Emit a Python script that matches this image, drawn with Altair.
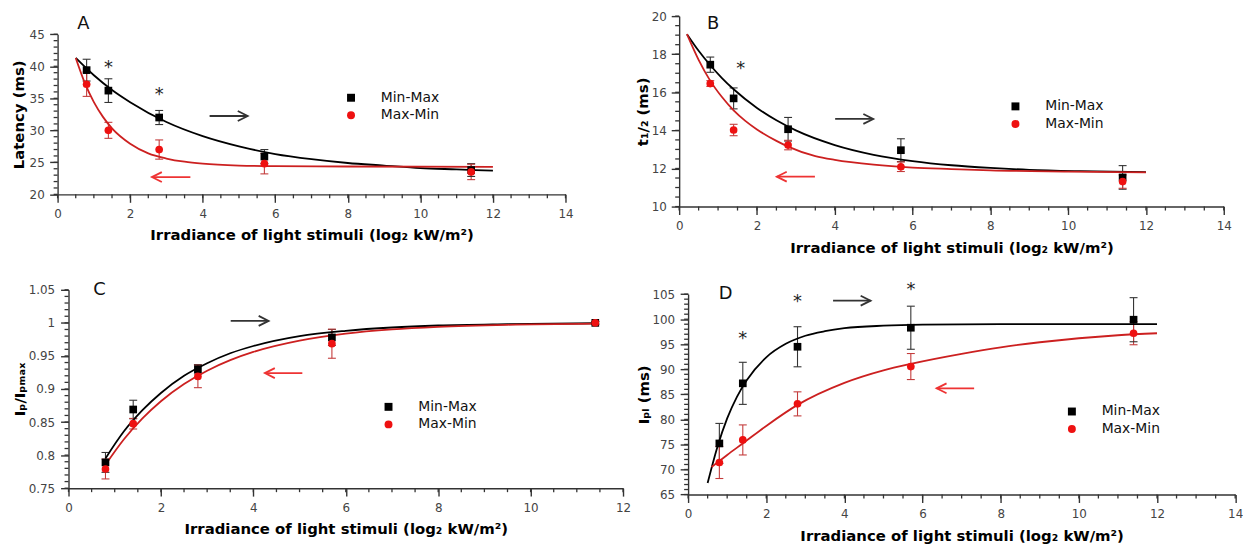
import altair as alt
import pandas as pd

SERIES = ["Min-Max", "Max-Min"]
X_STIM = [0.8, 1.4, 2.8, 5.7, 11.4]
X_TITLE = "Irradiance of light stimuli (log₂ kW/m²)"

PT_COLORS = ["#000000", "#ee1111"]
ERR_COLORS = ["#333333", "#c43c3c"]
FIT_COLORS = ["#000000", "#cc2020"]
ARROW_COLORS = ["#333333", "#ee3333"]
AXIS_COLOR = "#333333"
MARGIN = 5  # room kept inside each panel for the minor ticks

# ---------------- Panel A : latency ----------------
A_MINMAX = [39.4, 36.2, 32.0, 25.9, 23.8]
A_MINMAX_ERR = [1.7, 1.85, 1.1, 1.1, 1.0]
A_MAXMIN = [37.2, 30.0, 27.0, 24.8, 23.5]
A_MAXMIN_ERR = [1.9, 1.25, 1.5, 1.6, 1.2]
A_FIT1_X = [0.5, 1, 1.5, 2, 3, 4, 5, 6, 7, 8, 9, 10, 11, 12]
A_FIT1_Y = [41.3, 38.6, 36.3, 34.4, 31.3, 29.1, 27.5, 26.3, 25.5, 24.9, 24.5, 24.1, 23.9, 23.7]
A_FIT2_X = [0.5, 0.75, 1, 1.25, 1.5, 2, 2.5, 3, 3.5, 4, 5, 6, 8, 12]
A_FIT2_Y = [41.3, 37.4, 34.4, 32.1, 30.3, 27.9, 26.4, 25.6, 25.1, 24.8, 24.5, 24.4, 24.35, 24.3]
A_ARROW_X0 = [4.19, 3.66]
A_ARROW_X1 = [5.24, 2.60]
A_ARROW_Y = [32.24, 22.7]
A_STAR_X = [1.4, 2.8]
A_STAR_Y = [40.5, 36.25]

# ---------------- Panel B : t1/2 ----------------
B_MINMAX = [17.45, 15.68, 14.06, 12.96, 11.53]
B_MINMAX_ERR = [0.4, 0.55, 0.62, 0.6, 0.62]
B_MAXMIN = [16.46, 14.02, 13.23, 12.09, 11.31]
B_MAXMIN_ERR = [0.15, 0.3, 0.25, 0.25, 0.35]
B_FIT1_X = [0.2, 0.5, 0.8, 1.1, 1.4, 2, 2.5, 3, 4, 5, 6, 7, 8, 9, 10.3, 12]
B_FIT1_Y = [19.05, 18.18, 17.42, 16.75, 16.16, 15.18, 14.53, 14.0, 13.23, 12.72, 12.39, 12.17, 12.03, 11.93, 11.86, 11.81]
B_FIT2_X = [0.2, 0.5, 0.8, 1.1, 1.4, 1.7, 2, 2.5, 2.8, 3.5, 4, 5, 6, 7, 8, 10, 12]
B_FIT2_Y = [19.05, 17.7, 16.6, 15.75, 15.05, 14.5, 14.05, 13.45, 13.15, 12.65, 12.45, 12.2, 12.05, 11.97, 11.9, 11.84, 11.8]
B_ARROW_X0 = [4.01, 3.49]
B_ARROW_X1 = [4.99, 2.51]
B_ARROW_Y = [14.6, 11.57]
B_STAR_X = [1.58]
B_STAR_Y = [17.47]

# ---------------- Panel C : Ip/Ipmax ----------------
C_MINMAX = [0.789, 0.869, 0.930, 0.978, 1.0]
C_MINMAX_ERR = [0.015, 0.014, 0.007, 0.012, 0.002]
C_MAXMIN = [0.779, 0.8475, 0.919, 0.9685, 1.0]
C_MAXMIN_ERR = [0.015, 0.008, 0.017, 0.022, 0.002]
C_FIT1_X = [0.8, 1.2, 1.6, 2, 2.5, 3, 3.5, 4, 5, 6, 7, 8, 9.5, 11.4]
C_FIT1_Y = [0.795, 0.836, 0.868, 0.894, 0.920, 0.939, 0.954, 0.965, 0.980, 0.988, 0.993, 0.996, 0.998, 0.9994]
C_FIT2_X = [0.8, 1.2, 1.6, 2, 2.5, 3, 3.5, 4, 5, 6, 7, 8, 9.5, 11.4]
C_FIT2_Y = [0.7855, 0.824, 0.8555, 0.8815, 0.9075, 0.9277, 0.9436, 0.956, 0.9731, 0.9836, 0.990, 0.9939, 0.9971, 0.9989]
C_ARROW_X0 = [3.51, 5.06]
C_ARROW_X1 = [4.33, 4.25]
C_ARROW_Y = [1.003, 0.924]
C_STAR_X = []
C_STAR_Y = []

# ---------------- Panel D : Ipl ----------------
D_MINMAX = [75.2, 87.2, 94.5, 98.3, 99.9]
D_MINMAX_ERR = [4.0, 4.2, 4.0, 4.3, 4.4]
D_MAXMIN = [71.4, 75.9, 83.1, 90.55, 97.2]
D_MAXMIN_ERR = [3.2, 3.0, 2.4, 2.6, 2.3]
D_FIT1_X = [0.5, 0.75, 1, 1.25, 1.5, 2, 2.5, 3, 3.5, 4, 5, 6, 8, 12]
D_FIT1_Y = [67.3, 74.5, 80.2, 84.5, 87.8, 92.4, 95.1, 96.7, 97.6, 98.2, 98.7, 98.9, 99.0, 99.0]
D_FIT2_X = [0.6, 0.8, 1, 1.4, 2, 2.8, 4, 5, 5.7, 7, 8, 9, 10, 11, 12]
D_FIT2_Y = [70.5, 71.7, 72.9, 75.2, 78.7, 82.9, 87.3, 89.8, 91.1, 93.1, 94.4, 95.4, 96.2, 96.8, 97.2]
D_ARROW_X0 = [3.71, 7.32]
D_ARROW_X1 = [4.67, 6.36]
D_ARROW_Y = [103.7, 86.2]
D_STAR_X = [1.4, 2.8, 5.7]
D_STAR_Y = [96.95, 104.4, 106.85]

RIGHT_HEAD = "M -1 -0.5 L 0 0 L -1 0.5"
LEFT_HEAD = "M 1 -0.5 L 0 0 L 1 0.5"


def ticks(lo, hi, step):
    n = int(round((hi - lo) / step))
    return [round(lo + i * step, 6) for i in range(n + 1)]


def panel(letter, letter_x, letter_y, mm, mm_err, xm, xm_err,
          fit1x, fit1y, fit2x, fit2y, ax0, ax1, ay, sx, sy,
          xdom, ydom, xstep, ystep, xminor, yminor, ytitle, ytitle_pad, ylabel_pad,
          w, h, xoff, yoff, lx, ly):
    xoff = xoff + MARGIN
    xs = alt.Scale(domain=xdom, nice=False, zero=False, range=[xoff, xoff + w])
    ys = alt.Scale(domain=ydom, nice=False, zero=False, range=[yoff + h, yoff])
    xaxis = alt.Axis(title=X_TITLE, values=ticks(xdom[0], xdom[1], xstep), tickSize=8,
                     offset=-MARGIN,
                     labelOverlap=False, labelFlush=False, labelPadding=6, titlePadding=9,
                     labelExpr="'' + datum.value", grid=False)
    yaxis = alt.Axis(title=ytitle, values=ticks(ydom[0], ydom[1], ystep), tickSize=8,
                     offset=-xoff,
                     labelOverlap=False, labelFlush=False, labelPadding=ylabel_pad - 1,
                     titlePadding=ytitle_pad, labelExpr="'' + datum.value", grid=False)

    rows = []
    for i, s in enumerate(SERIES):
        vals = mm if i == 0 else xm
        errs = mm_err if i == 0 else xm_err
        for xv, yv, ev in zip(X_STIM, vals, errs):
            rows.append({"x": xv, "y": yv, "lo": yv - ev, "hi": yv + ev,
                         "series": s, "ecol": ERR_COLORS[i]})
    pts = pd.DataFrame(rows)
    caps = pd.concat([
        pts[["x", "lo", "ecol"]].rename(columns={"lo": "y"}),
        pts[["x", "hi", "ecol"]].rename(columns={"hi": "y"}),
    ])

    X = alt.X("x:Q", scale=xs, axis=xaxis)
    Y = alt.Y("y:Q", scale=ys, axis=yaxis)

    # minor ticks: short rules hanging outside the axis lines (inside the panel margin)
    xm_vals = ticks(xdom[0], xdom[1], xminor)
    ym_vals = ticks(ydom[0], ydom[1], yminor)
    xmin_df = pd.DataFrame({"x": xm_vals, "y": [ydom[0]] * len(xm_vals),
                            "y2": [ydom[0]] * len(xm_vals), "c": AXIS_COLOR})
    ymin_df = pd.DataFrame({"x": [xdom[0]] * len(ym_vals), "x2": [xdom[0]] * len(ym_vals),
                            "y": ym_vals, "c": AXIS_COLOR})
    xminor_ticks = alt.Chart(xmin_df).mark_rule(
        strokeWidth=1.3, y2Offset=4, opacity=1, clip=False).encode(
        x=X, y=Y, y2="y2:Q", color=alt.Color("c:N", scale=None))
    yminor_ticks = alt.Chart(ymin_df).mark_rule(
        strokeWidth=1.3, x2Offset=-4, opacity=1, clip=False).encode(
        x=X, x2="x2:Q", y=Y, color=alt.Color("c:N", scale=None))

    err = alt.Chart(pts).mark_rule(strokeWidth=1.1).encode(
        x=X, y=alt.Y("lo:Q", scale=ys, axis=yaxis), y2="hi:Q",
        color=alt.Color("ecol:N", scale=None))
    cap = alt.Chart(caps).mark_tick(orient="horizontal", size=8, thickness=1.1, opacity=1).encode(
        x=X, y=Y, color=alt.Color("ecol:N", scale=None))

    fit_layers = []
    for fx, fy, col in ((fit1x, fit1y, FIT_COLORS[0]), (fit2x, fit2y, FIT_COLORS[1])):
        fdf = pd.DataFrame({"x": fx, "y": fy})
        fit_layers.append(alt.Chart(fdf).mark_line(
            color=col, strokeWidth=1.8, interpolate="monotone").encode(x=X, y=Y))

    leg = alt.Legend(title=None, orient="none", legendX=lx + xoff, legendY=ly + yoff,
                     labelFontSize=14, labelFont="DejaVu Sans", labelColor="#111111",
                     symbolSize=64, labelOffset=23, rowPadding=3.7, padding=0,
                     symbolStrokeWidth=0)
    points = alt.Chart(pts).mark_point(filled=True, size=60, opacity=1).encode(
        x=X, y=Y,
        color=alt.Color("series:N", scale=alt.Scale(domain=SERIES, range=PT_COLORS), legend=leg),
        shape=alt.Shape("series:N", scale=alt.Scale(domain=SERIES, range=["square", "circle"]), legend=leg),
    )

    adf = pd.DataFrame({
        "x0": ax0, "x": ax1, "y": ay,
        "col": ARROW_COLORS,
        "head": [RIGHT_HEAD if b > a else LEFT_HEAD for a, b in zip(ax0, ax1)],
    })
    shaft = alt.Chart(adf).mark_rule(strokeWidth=1.8).encode(
        x=alt.X("x0:Q", scale=xs, axis=xaxis), x2="x:Q", y=Y,
        color=alt.Color("col:N", scale=None))
    head = alt.Chart(adf).mark_point(filled=False, size=400, strokeWidth=1.8, opacity=1).encode(
        x=X, y=Y, shape=alt.Shape("head:N", scale=None), color=alt.Color("col:N", scale=None))

    layers = [xminor_ticks, yminor_ticks, err, cap] + fit_layers + [points, shaft, head]

    if sx:
        sdf = pd.DataFrame({"x": sx, "y": sy})
        layers.append(alt.Chart(sdf).mark_text(text="*", fontSize=18, dy=5, color="#222222",
                                               font="DejaVu Sans").encode(x=X, y=Y))
    ldf = pd.DataFrame({"x": [letter_x], "y": [letter_y], "t": [letter]})
    layers.append(alt.Chart(ldf).mark_text(fontSize=18, color="#111111", font="DejaVu Sans").encode(
        x=X, y=Y, text="t:N"))

    return alt.layer(*layers).properties(width=xoff + w, height=yoff + h + MARGIN)


pA = panel("A", 0.71, 46.6, A_MINMAX, A_MINMAX_ERR, A_MAXMIN, A_MAXMIN_ERR,
           A_FIT1_X, A_FIT1_Y, A_FIT2_X, A_FIT2_Y, A_ARROW_X0, A_ARROW_X1, A_ARROW_Y,
           A_STAR_X, A_STAR_Y, [0, 14], [20, 45], 2, 5, 0.5, 1,
           "Latency (ms)", 2.5, 6.5, 512, 161.4, 0, 18.3, 288.8, 57)
pB = panel("B", 0.87, 19.58, B_MINMAX, B_MINMAX_ERR, B_MAXMIN, B_MAXMIN_ERR,
           B_FIT1_X, B_FIT1_Y, B_FIT2_X, B_FIT2_Y, B_ARROW_X0, B_ARROW_X1, B_ARROW_Y,
           B_STAR_X, B_STAR_Y, [0, 14], [10, 20], 2, 2, 0.5, 0.5,
           "t₁/₂ (ms)", 0.5, 6, 549, 192, 0, 0, 332, 84)
pC = panel("C", 0.67, 1.05, C_MINMAX, C_MINMAX_ERR, C_MAXMIN, C_MAXMIN_ERR,
           C_FIT1_X, C_FIT1_Y, C_FIT2_X, C_FIT2_Y, C_ARROW_X0, C_ARROW_X1, C_ARROW_Y,
           C_STAR_X, C_STAR_Y, [0, 12], [0.75, 1.05], 2, 0.05, 0.5, 0.01,
           "Iₚ/Iₚₘₐₓ", 1, 7, 559, 200, 11, 0, 315.6, 111)
pD = panel("D", 0.96, 105, D_MINMAX, D_MINMAX_ERR, D_MAXMIN, D_MAXMIN_ERR,
           D_FIT1_X, D_FIT1_Y, D_FIT2_X, D_FIT2_Y, D_ARROW_X0, D_ARROW_X1, D_ARROW_Y,
           D_STAR_X, D_STAR_Y, [0, 14], [65, 105], 2, 5, 0.5, 1,
           "Iₚₗ (ms)", 0.5, 6.5, 551.5, 202, 9, 4.4, 379.9, 111.3)

chart = alt.concat(
    pA, pB, pC, pD, columns=2, bounds="flush", align="all",
    spacing={"row": 63.9, "column": 51.6},
    padding={"left": 3, "top": 0, "right": 0, "bottom": 0},
    background="white",
).resolve_scale(color="independent", shape="independent").configure_view(
    stroke=None
).configure_axis(
    domainColor=AXIS_COLOR, tickColor=AXIS_COLOR, labelColor="#444444",
    labelFont="DejaVu Sans", labelFontSize=12,
    titleFont="DejaVu Sans", titleFontSize=15, titleFontWeight="bold", titleColor="#000000",
    domainWidth=1.4, tickWidth=1.4,
)

chart.save("out.html", embed_options={"renderer": "svg", "actions": False})
